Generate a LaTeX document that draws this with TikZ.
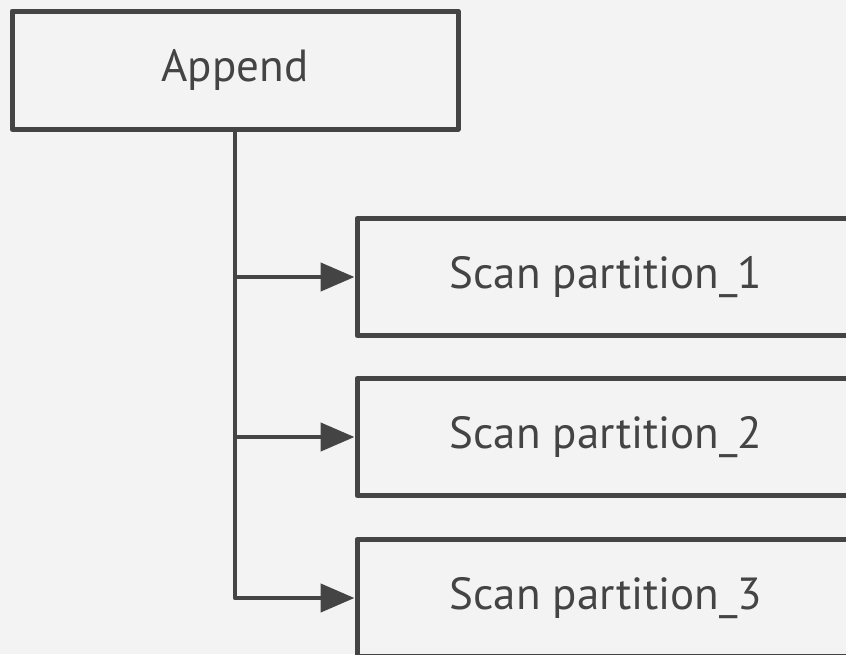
\documentclass[tikz,border=0pt]{standalone}
\usepackage{fontspec}
\setmainfont{PT Sans}
\usetikzlibrary{arrows.meta}
\definecolor{ink}{HTML}{444444}
\definecolor{paper}{HTML}{F3F3F3}
\begin{document}
\begin{tikzpicture}[x=1pt,y=-1pt,line join=round,
  box/.style={draw=ink,line width=5pt,fill=paper,text=ink,inner sep=0pt,
    font=\fontsize{45}{54}\selectfont},
  link/.style={draw=ink,line width=4.5pt,-{Triangle[length=34pt,width=28pt]}}]
\useasboundingbox (0,0) rectangle (846,654);
\fill[paper] (0,0) rectangle (846,654);
\clip (0,0) rectangle (846,654);
% parent and the three scans
\node[box,minimum width=446pt,minimum height=118pt] (append) at (235,70) {Append};
\foreach \n/\y in {1/277,2/437,3/598}
  \node[box,minimum width=498pt,minimum height=117pt] (scan\n) at (606,\y) {Scan partition\_\n};
% elbows from the shared trunk
\foreach \n in {1,2,3}
  \draw[link] (append.south) |- (scan\n.west);
\end{tikzpicture}
\end{document}
